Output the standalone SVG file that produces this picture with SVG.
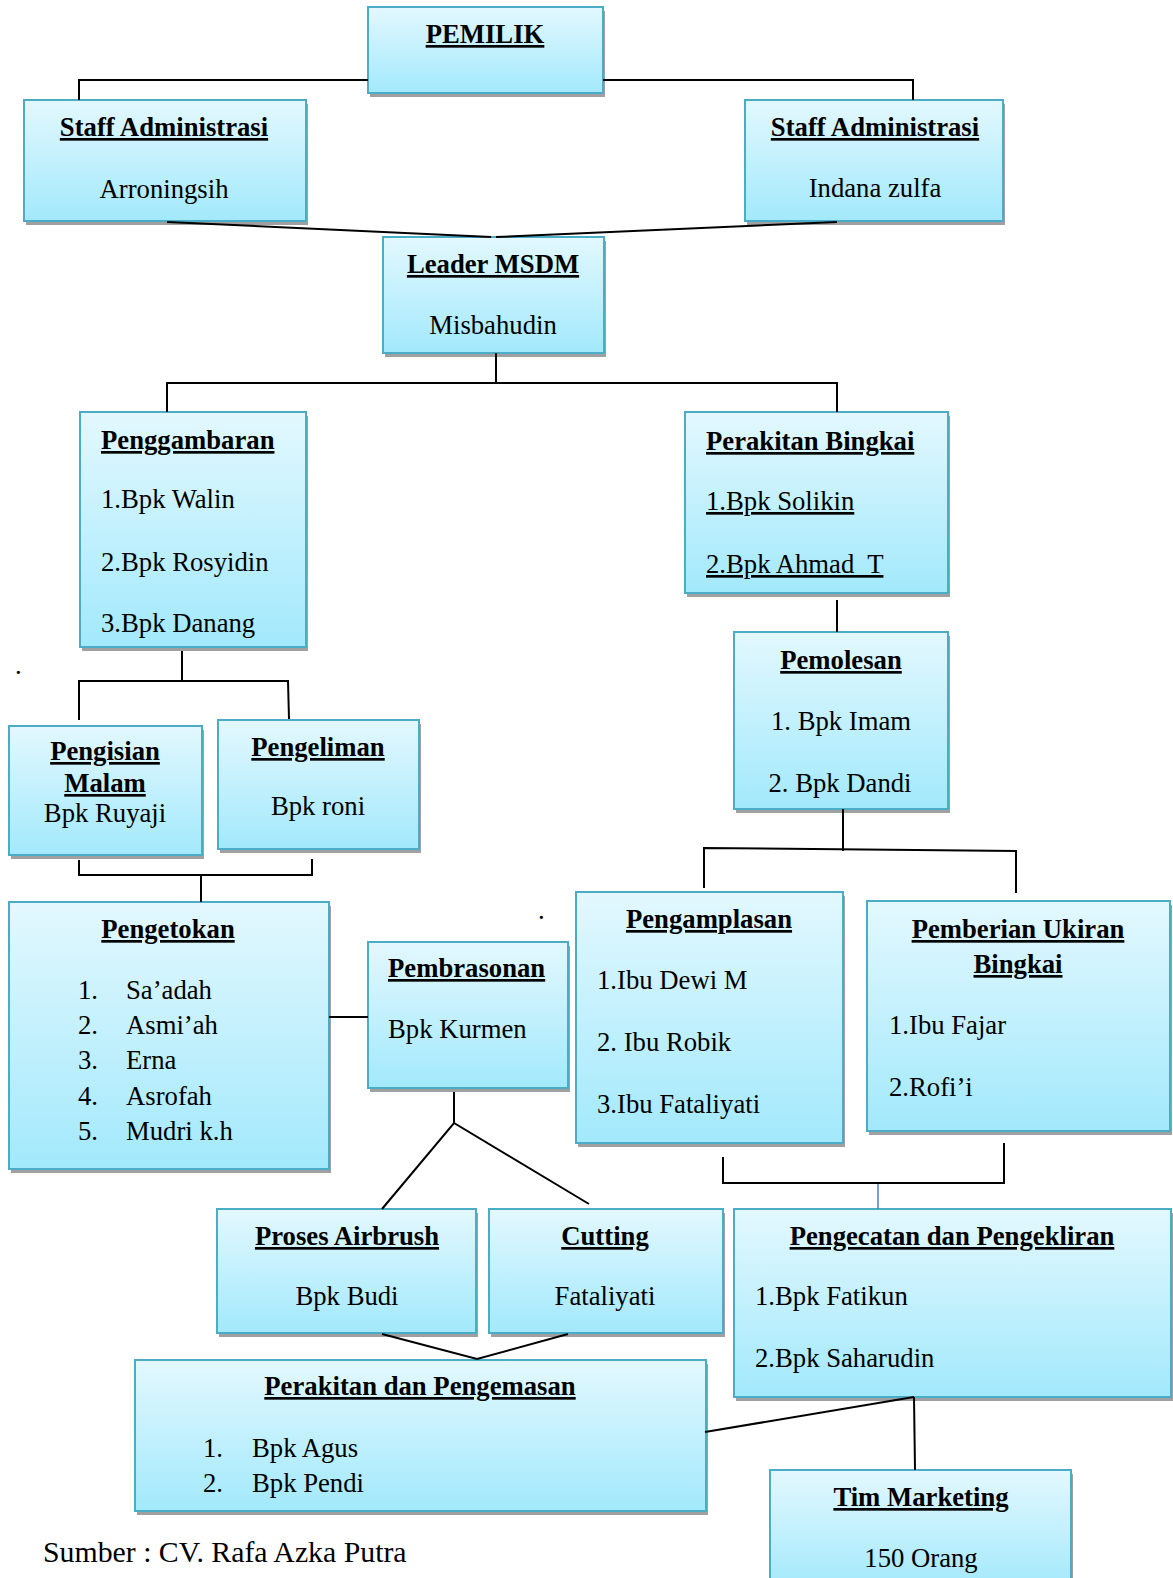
<svg xmlns="http://www.w3.org/2000/svg" width="1173" height="1578" viewBox="0 0 1173 1578">
<defs>
<linearGradient id="g" x1="0" y1="0" x2="0" y2="1">
<stop offset="0" stop-color="#e3f8fe"/>
<stop offset="1" stop-color="#a2e9fc"/>
</linearGradient>
</defs>
<style>
.box{fill:url(#g);stroke:#4bacc6;stroke-width:2}
.sh{fill:#a0a0a0}
.h{font-family:"Liberation Serif","Times New Roman",serif;font-size:26.7px;font-weight:bold;text-decoration:underline;fill:#000}
.t{font-family:"Liberation Serif","Times New Roman",serif;font-size:26.7px;fill:#000}
.u{text-decoration:underline}
.m{text-anchor:middle}
.c{fill:none;stroke:#000;stroke-width:2}
.cb{fill:none;stroke:#4f81bd;stroke-width:1.5}
</style>
<rect width="1173" height="1578" fill="#fff"/>

<g id="pemilik">
<rect class="sh" x="370" y="11" width="235" height="86"/>
<rect class="box" x="368" y="7" width="235" height="86"/>
<text class="h m" x="485" y="43">PEMILIK</text>
</g>

<g id="staff-1">
<rect class="sh" x="26" y="104" width="282" height="121"/>
<rect class="box" x="24" y="100" width="282" height="121"/>
<text class="h m" x="164" y="136">Staff Administrasi</text>
<text class="t m" x="164" y="198">Arroningsih</text>
</g>

<g id="staff-2">
<rect class="sh" x="747" y="104" width="258" height="121"/>
<rect class="box" x="745" y="100" width="258" height="121"/>
<text class="h m" x="875" y="136">Staff Administrasi</text>
<text class="t m" x="875" y="197">Indana zulfa</text>
</g>

<g id="leader">
<rect class="sh" x="385" y="241" width="221" height="116"/>
<rect class="box" x="383" y="237" width="221" height="116"/>
<text class="h m" x="493" y="273">Leader MSDM</text>
<text class="t m" x="493" y="334">Misbahudin</text>
</g>

<g id="penggambaran">
<rect class="sh" x="82" y="416" width="226" height="235"/>
<rect class="box" x="80" y="412" width="226" height="235"/>
<text class="h" x="101" y="449">Penggambaran</text>
<text class="t" x="101" y="508">1.Bpk Walin</text>
<text class="t" x="101" y="571">2.Bpk Rosyidin</text>
<text class="t" x="101" y="632">3.Bpk Danang</text>
</g>

<g id="perakitan-bingkai">
<rect class="sh" x="687" y="416" width="263" height="181"/>
<rect class="box" x="685" y="412" width="263" height="181"/>
<text class="h" x="706" y="450">Perakitan Bingkai</text>
<text class="t u" x="706" y="510">1.Bpk Solikin</text>
<text class="t u" x="706" y="573">2.Bpk Ahmad&#160; T</text>
</g>

<g id="pemolesan">
<rect class="sh" x="736" y="636" width="214" height="177"/>
<rect class="box" x="734" y="632" width="214" height="177"/>
<text class="h m" x="841" y="669">Pemolesan</text>
<text class="t m" x="841" y="730">1. Bpk Imam</text>
<text class="t m" x="840" y="792">2. Bpk Dandi</text>
</g>

<text class="t" x="15" y="674">.</text>
<text class="t" x="538" y="919">.</text>

<g id="pengisian-malam">
<rect class="sh" x="11" y="730" width="193" height="129"/>
<rect class="box" x="9" y="726" width="193" height="129"/>
<text class="h m" x="105" y="760">Pengisian</text>
<text class="h m" x="105" y="792">Malam</text>
<text class="t m" x="105" y="822">Bpk Ruyaji</text>
</g>

<g id="pengeliman">
<rect class="sh" x="220" y="724" width="201" height="129"/>
<rect class="box" x="218" y="720" width="201" height="129"/>
<text class="h m" x="318" y="756">Pengeliman</text>
<text class="t m" x="318" y="815">Bpk roni</text>
</g>

<g id="pengetokan">
<rect class="sh" x="11" y="906" width="320" height="267"/>
<rect class="box" x="9" y="902" width="320" height="267"/>
<text class="h m" x="168" y="938">Pengetokan</text>
<text class="t" x="78" y="999">1.</text><text class="t" x="126" y="999">Sa’adah</text>
<text class="t" x="78" y="1034">2.</text><text class="t" x="126" y="1034">Asmi’ah</text>
<text class="t" x="78" y="1069">3.</text><text class="t" x="126" y="1069">Erna</text>
<text class="t" x="78" y="1105">4.</text><text class="t" x="126" y="1105">Asrofah</text>
<text class="t" x="78" y="1140">5.</text><text class="t" x="126" y="1140">Mudri k.h</text>
</g>

<g id="pembrasonan">
<rect class="sh" x="370" y="946" width="200" height="146"/>
<rect class="box" x="368" y="942" width="200" height="146"/>
<text class="h" x="388" y="977">Pembrasonan</text>
<text class="t" x="388" y="1038">Bpk Kurmen</text>
</g>

<g id="pengamplasan">
<rect class="sh" x="578" y="896" width="267" height="251"/>
<rect class="box" x="576" y="892" width="267" height="251"/>
<text class="h m" x="709" y="928">Pengamplasan</text>
<text class="t" x="597" y="989">1.Ibu Dewi M</text>
<text class="t" x="597" y="1051">2. Ibu Robik</text>
<text class="t" x="597" y="1113">3.Ibu Fataliyati</text>
</g>

<g id="pemberian-ukiran">
<rect class="sh" x="869" y="905" width="303" height="230"/>
<rect class="box" x="867" y="901" width="303" height="230"/>
<text class="h m" x="1018" y="938">Pemberian Ukiran</text>
<text class="h m" x="1018" y="973">Bingkai</text>
<text class="t" x="889" y="1034">1.Ibu Fajar</text>
<text class="t" x="889" y="1096">2.Rofi’i</text>
</g>

<g id="proses-airbrush">
<rect class="sh" x="219" y="1213" width="259" height="124"/>
<rect class="box" x="217" y="1209" width="259" height="124"/>
<text class="h m" x="347" y="1245">Proses Airbrush</text>
<text class="t m" x="347" y="1305">Bpk Budi</text>
</g>

<g id="cutting">
<rect class="sh" x="491" y="1213" width="234" height="124"/>
<rect class="box" x="489" y="1209" width="234" height="124"/>
<text class="h m" x="605" y="1245">Cutting</text>
<text class="t m" x="605" y="1305">Fataliyati</text>
</g>

<g id="pengecatan">
<rect class="sh" x="736" y="1213" width="437" height="188"/>
<rect class="box" x="734" y="1209" width="437" height="188"/>
<text class="h m" x="952" y="1245">Pengecatan dan Pengekliran</text>
<text class="t" x="755" y="1305">1.Bpk Fatikun</text>
<text class="t" x="755" y="1367">2.Bpk Saharudin</text>
</g>

<g id="perakitan-pengemasan">
<rect class="sh" x="137" y="1364" width="571" height="151"/>
<rect class="box" x="135" y="1360" width="571" height="151"/>
<text class="h m" x="420" y="1395">Perakitan dan Pengemasan</text>
<text class="t" x="203" y="1457">1.</text><text class="t" x="252" y="1457">Bpk Agus</text>
<text class="t" x="203" y="1492">2.</text><text class="t" x="252" y="1492">Bpk Pendi</text>
</g>

<g id="tim-marketing">
<rect class="sh" x="772" y="1474" width="301" height="120"/>
<rect class="box" x="770" y="1470" width="301" height="120"/>
<text class="h m" x="921" y="1506">Tim Marketing</text>
<text class="t m" x="921" y="1567">150 Orang</text>
</g>

<text class="t" x="43" y="1562" style="font-size:29.8px">Sumber : CV. Rafa Azka Putra</text>

<g id="connectors">
<polyline class="c" points="368,80 79,80 79,100"/>
<polyline class="c" points="603,80 913,80 913,100"/>
<line class="c" x1="167" y1="222" x2="491" y2="237"/>
<line class="c" x1="837" y1="222" x2="496" y2="237"/>
<line class="c" x1="496" y1="353" x2="496" y2="383"/>
<polyline class="c" points="167,412 167,383 837,383 837,412"/>
<line class="c" x1="182" y1="651" x2="182" y2="681"/>
<polyline class="c" points="79,720 79,681 288,681 289,719"/>
<polyline class="c" points="79,860 79,875 312,875 312,859"/>
<line class="c" x1="201" y1="875" x2="201" y2="902"/>
<line class="c" x1="329" y1="1017" x2="368" y2="1017"/>
<line class="c" x1="837" y1="600" x2="837" y2="632"/>
<line class="c" x1="843" y1="809" x2="843" y2="851"/>
<polyline class="c" points="704,888 704,848 1016,851 1016,893"/>
<line class="c" x1="454" y1="1092" x2="454" y2="1123"/>
<polyline class="c" points="382,1209 454,1123 589,1204"/>
<polyline class="c" points="382,1334 477,1359 568,1334"/>
<polyline class="c" points="723,1157 723,1183 1004,1183 1004,1143"/>
<line class="cb" x1="878" y1="1184" x2="878" y2="1209"/>
<line class="c" x1="705" y1="1432" x2="914" y2="1397"/>
<line class="c" x1="914" y1="1397" x2="915" y2="1470"/>
</g>
</svg>
